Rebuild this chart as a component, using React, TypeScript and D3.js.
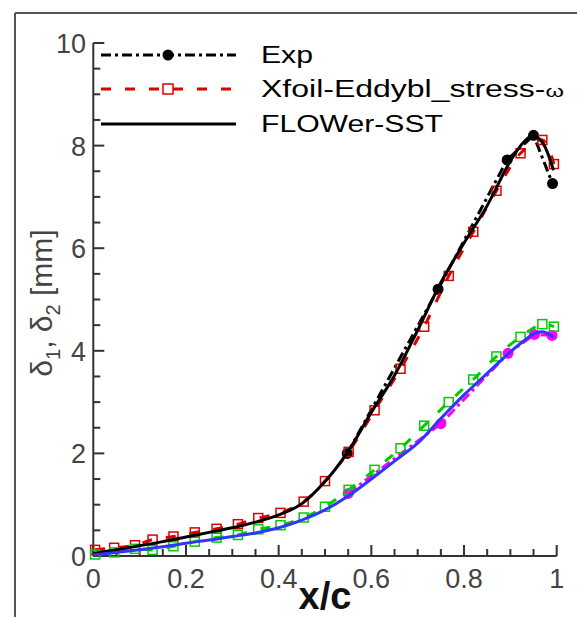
import React from "react";
import * as d3 from "d3";

// ---- data ----
const expX1 = [0.548, 0.744, 0.893, 0.95, 0.991];
const expD1 = [2.0, 5.2, 7.72, 8.2, 7.26];
const expX2 = [0.55, 0.75, 0.895, 0.952, 0.99];
const expD2 = [1.22, 2.58, 3.95, 4.32, 4.3];

const xfoilX = [0.004, 0.045, 0.09, 0.128, 0.173, 0.219, 0.266, 0.312, 0.356, 0.404, 0.454, 0.5, 0.551, 0.607, 0.663, 0.714, 0.767, 0.82, 0.87, 0.922, 0.969, 0.994];
const xfoilD1 = [0.12, 0.16, 0.21, 0.32, 0.38, 0.46, 0.53, 0.62, 0.74, 0.84, 1.06, 1.46, 2.03, 2.84, 3.65, 4.47, 5.46, 6.32, 7.12, 7.85, 8.11, 7.64];
const xfoilD2 = [0.03, 0.07, 0.14, 0.12, 0.19, 0.28, 0.36, 0.41, 0.52, 0.6, 0.75, 0.96, 1.29, 1.68, 2.1, 2.54, 3.0, 3.44, 3.89, 4.27, 4.52, 4.47];

const flowerX = [0, 0.05, 0.1, 0.15, 0.2, 0.25, 0.3, 0.35, 0.4, 0.45, 0.5, 0.547, 0.6, 0.65, 0.7, 0.75, 0.8, 0.85, 0.9, 0.93, 0.95, 0.97, 0.993];
const flowerD1 = [0.05, 0.12, 0.2, 0.28, 0.37, 0.46, 0.55, 0.66, 0.8, 1.02, 1.45, 2.0, 2.8, 3.52, 4.4, 5.33, 6.1, 6.83, 7.7, 8.08, 8.2, 8.05, 7.52];
const flowerD2 = [0.02, 0.07, 0.12, 0.18, 0.25, 0.31, 0.38, 0.45, 0.55, 0.7, 0.9, 1.15, 1.5, 1.85, 2.2, 2.68, 3.14, 3.56, 3.98, 4.2, 4.33, 4.37, 4.27];

const xTickLabels = ["0", "0.2", "0.4", "0.6", "0.8", "1"];
const yTickLabels = ["0", "2", "4", "6", "8", "10"];

const W = 577;
const H = 617;

export default function App() {
  const x = d3.scaleLinear().domain([0, 1]).range([93.3, 556.7]);
  const y = d3.scaleLinear().domain([0, 10]).range([556, 43]);

  const smooth = d3
    .line<[number, number]>()
    .x((d) => x(d[0]))
    .y((d) => y(d[1]))
    .curve(d3.curveCatmullRom.alpha(0.5));
  const straight = d3
    .line<[number, number]>()
    .x((d) => x(d[0]))
    .y((d) => y(d[1]));

  const zip = (a: number[], b: number[]) => a.map((v, i) => [v, b[i]] as [number, number]);

  const xMinor = d3.range(0, 1.0001, 0.05);
  const yMinor = d3.range(0, 10.0001, 0.5);
  const font = "'Liberation Sans', Arial, sans-serif";
  const axisColor = "#333";
  const sq = 9;

  const dashDot = "10,4,3,4";
  const dashed = "10,14";

  return (
    <svg width={W} height={H} style={{ position: "absolute", left: 0, top: 0, background: "#fff" }}>
      <rect x={0} y={0} width={W} height={H} fill="#fff" />
      {/* outer frame */}
      <line x1={15} y1={13} x2={15} y2={H} stroke="#555" strokeWidth={2} />
      <line x1={15} y1={13} x2={W} y2={13} stroke="#555" strokeWidth={2} />

      {/* axes */}
      <line x1={x(0)} y1={y(0)} x2={x(1)} y2={y(0)} stroke={axisColor} strokeWidth={2} />
      <line x1={x(0)} y1={y(0)} x2={x(0)} y2={y(10)} stroke={axisColor} strokeWidth={2} />
      {xMinor.map((v, i) => {
        const major = i % 4 === 0;
        return (
          <line key={"xt" + i} x1={x(v)} x2={x(v)} y1={y(0)} y2={y(0) - (major ? 11 : 7)} stroke={axisColor} strokeWidth={2} />
        );
      })}
      {yMinor.map((v, i) => {
        const major = i % 4 === 0;
        return (
          <line key={"yt" + i} x1={x(0)} x2={x(0) + (major ? 11 : 7)} y1={y(v)} y2={y(v)} stroke={axisColor} strokeWidth={2} />
        );
      })}
      {xTickLabels.map((t) => (
        <text key={"xl" + t} x={x(+t)} y={588} textAnchor="middle" fontFamily={font} fontSize={27} fill="#444">
          {t}
        </text>
      ))}
      {yTickLabels.map((t) => (
        <text key={"yl" + t} x={86} y={y(+t) + 10} textAnchor="end" fontFamily={font} fontSize={27} fill="#444">
          {t}
        </text>
      ))}
      <text x={x(0.5)} y={609} textAnchor="middle" fontFamily={font} fontSize={38} fontWeight="bold" fill="#111">
        x/c
      </text>
      <text
        transform={`translate(52, 303) rotate(-90)`}
        textAnchor="middle"
        fontFamily={font}
        fontSize={30}
        fill="#444"
      >
        δ<tspan fontSize={20} dy={8}>1</tspan>
        <tspan dy={-8}>, δ</tspan>
        <tspan fontSize={20} dy={8}>2</tspan>
        <tspan dy={-8}> [mm]</tspan>
      </text>

      {/* Exp */}
      <path d={straight(zip(expX2, expD2)) || ""} fill="none" stroke="#ff00ff" strokeWidth={3} strokeDasharray={dashDot} />
      <path d={straight(zip(expX1, expD1)) || ""} fill="none" stroke="#000" strokeWidth={3} strokeDasharray={dashDot} />
      {expX2.map((v, i) => (
        <circle key={"e2" + i} cx={x(v)} cy={y(expD2[i])} r={5.5} fill="#ff00ff" />
      ))}
      {expX1.map((v, i) => (
        <circle key={"e1" + i} cx={x(v)} cy={y(expD1[i])} r={5.5} fill="#000" />
      ))}

      {/* Xfoil */}
      <path d={smooth(zip(xfoilX, xfoilD1)) || ""} fill="none" stroke="#dd0000" strokeWidth={3} strokeDasharray={dashed} />
      <path d={smooth(zip(xfoilX, xfoilD2)) || ""} fill="none" stroke="#00cc00" strokeWidth={3} strokeDasharray={dashed} />
      {xfoilX.map((v, i) => (
        <rect key={"x1" + i} x={x(v) - sq / 2} y={y(xfoilD1[i]) - sq / 2} width={sq} height={sq} fill="none" stroke="#dd0000" strokeWidth={1.5} />
      ))}
      {xfoilX.map((v, i) => (
        <rect key={"x2" + i} x={x(v) - sq / 2} y={y(xfoilD2[i]) - sq / 2} width={sq} height={sq} fill="none" stroke="#00cc00" strokeWidth={1.5} />
      ))}

      {/* FLOWer */}
      <path d={smooth(zip(flowerX, flowerD1)) || ""} fill="none" stroke="#000" strokeWidth={3} />
      <path d={smooth(zip(flowerX, flowerD2)) || ""} fill="none" stroke="#3333ff" strokeWidth={3} />

      {/* legend */}
      <g>
        <line x1={101} x2={236} y1={55} y2={55} stroke="#000" strokeWidth={3} strokeDasharray={dashDot} />
        <circle cx={168} cy={55} r={5.5} fill="#000" />
        <text x={261} y={63} fontFamily={font} fontSize={23} fill="#000" textLength={52} lengthAdjust="spacingAndGlyphs">
          Exp
        </text>
        <line x1={101} x2={236} y1={89} y2={89} stroke="#dd0000" strokeWidth={3} strokeDasharray={dashed} />
        <rect x={168 - 5} y={89 - 5} width={10} height={10} fill="#fff" stroke="#dd0000" strokeWidth={1.5} />
        <text x={261} y={97} fontFamily={font} fontSize={23} fill="#000" textLength={303} lengthAdjust="spacingAndGlyphs">
          Xfoil-Eddybl_stress-<tspan fontSize={17}>ω</tspan>
        </text>
        <line x1={101} x2={236} y1={124} y2={124} stroke="#000" strokeWidth={3} />
        <text x={261} y={132} fontFamily={font} fontSize={23} fill="#000" textLength={182} lengthAdjust="spacingAndGlyphs">
          FLOWer-SST
        </text>
      </g>
    </svg>
  );
}
